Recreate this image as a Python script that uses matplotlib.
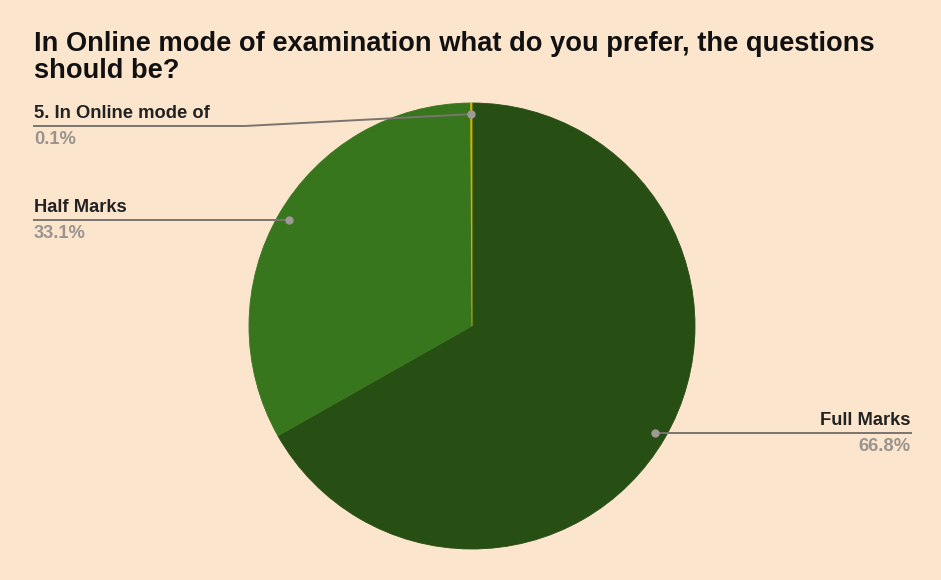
import numpy as np
import matplotlib.pyplot as plt

# Survey answers
labels = ["Full Marks", "Half Marks", "5. In Online mode of"]
shares = [66.8, 33.1, 0.1]
pct_labels = ["66.8%", "33.1%", "0.1%"]
colors = ["#274e13", "#38761d", "#d4b000"]

title = "In Online mode of examination what do you prefer, the questions\nshould be?"

W, H = 941, 580
bg = "#fce5cd"

fig = plt.figure(figsize=(W / 100, H / 100), dpi=100)
fig.patch.set_facecolor(bg)
ax = fig.add_axes([0, 0, 1, 1])
ax.set_facecolor(bg)

# pie center / radius in pixel units (y measured from bottom)
cx, cy, r = 472, H - 326, 223
wedges, _ = ax.pie(shares, colors=colors, startangle=90, counterclock=False,
                   center=(cx, cy), radius=r, frame=True,
                   wedgeprops=dict(linewidth=0.6, edgecolor="#d4b000"))
for w in wedges[:2]:
    w.set_edgecolor(w.get_facecolor())

ax.set_xlim(0, W)
ax.set_ylim(0, H)
ax.set_aspect("equal")
ax.axis("off")

left_x, right_x = 34, 911
top_label_y = H - 126  # labels can't sit higher than this
fs = 13.2

for w, lab, pct in zip(wedges, labels, pct_labels):
    mid = np.deg2rad((w.theta1 + w.theta2) / 2)
    dx, dy = cx + 0.95 * r * np.cos(mid), cy + 0.95 * r * np.sin(mid)
    ly = min(dy, top_label_y)
    if np.cos(mid) > 0.01:
        x0, ha = right_x, "right"
        ax.plot([dx, right_x], [ly, ly], color="#7a7470", lw=1.4, zorder=3)
    else:
        x0, ha = left_x, "left"
        if ly != dy:
            ax.plot([left_x, 245, dx], [ly, ly, dy], color="#7a7470", lw=1.4, zorder=3)
        else:
            ax.plot([left_x, dx], [ly, ly], color="#7a7470", lw=1.4, zorder=3)
    ax.text(x0, ly + 4, lab, ha=ha, va="bottom", fontsize=fs,
            fontweight="bold", color="#222222", family="Liberation Sans")
    ax.text(x0, ly - 5, pct, ha=ha, va="top", fontsize=fs,
            fontweight="bold", color="#9a948f", family="Liberation Sans")
    ax.plot(dx, dy, "o", ms=5, color="#9e9a96", zorder=4)

fig.text(left_x / W, 1 - 31 / H, title, ha="left", va="top", fontsize=19.6,
         fontweight="bold", color="#111111", family="Liberation Sans",
         linespacing=1.07)

fig.savefig("out.png", dpi=100, facecolor=bg)
